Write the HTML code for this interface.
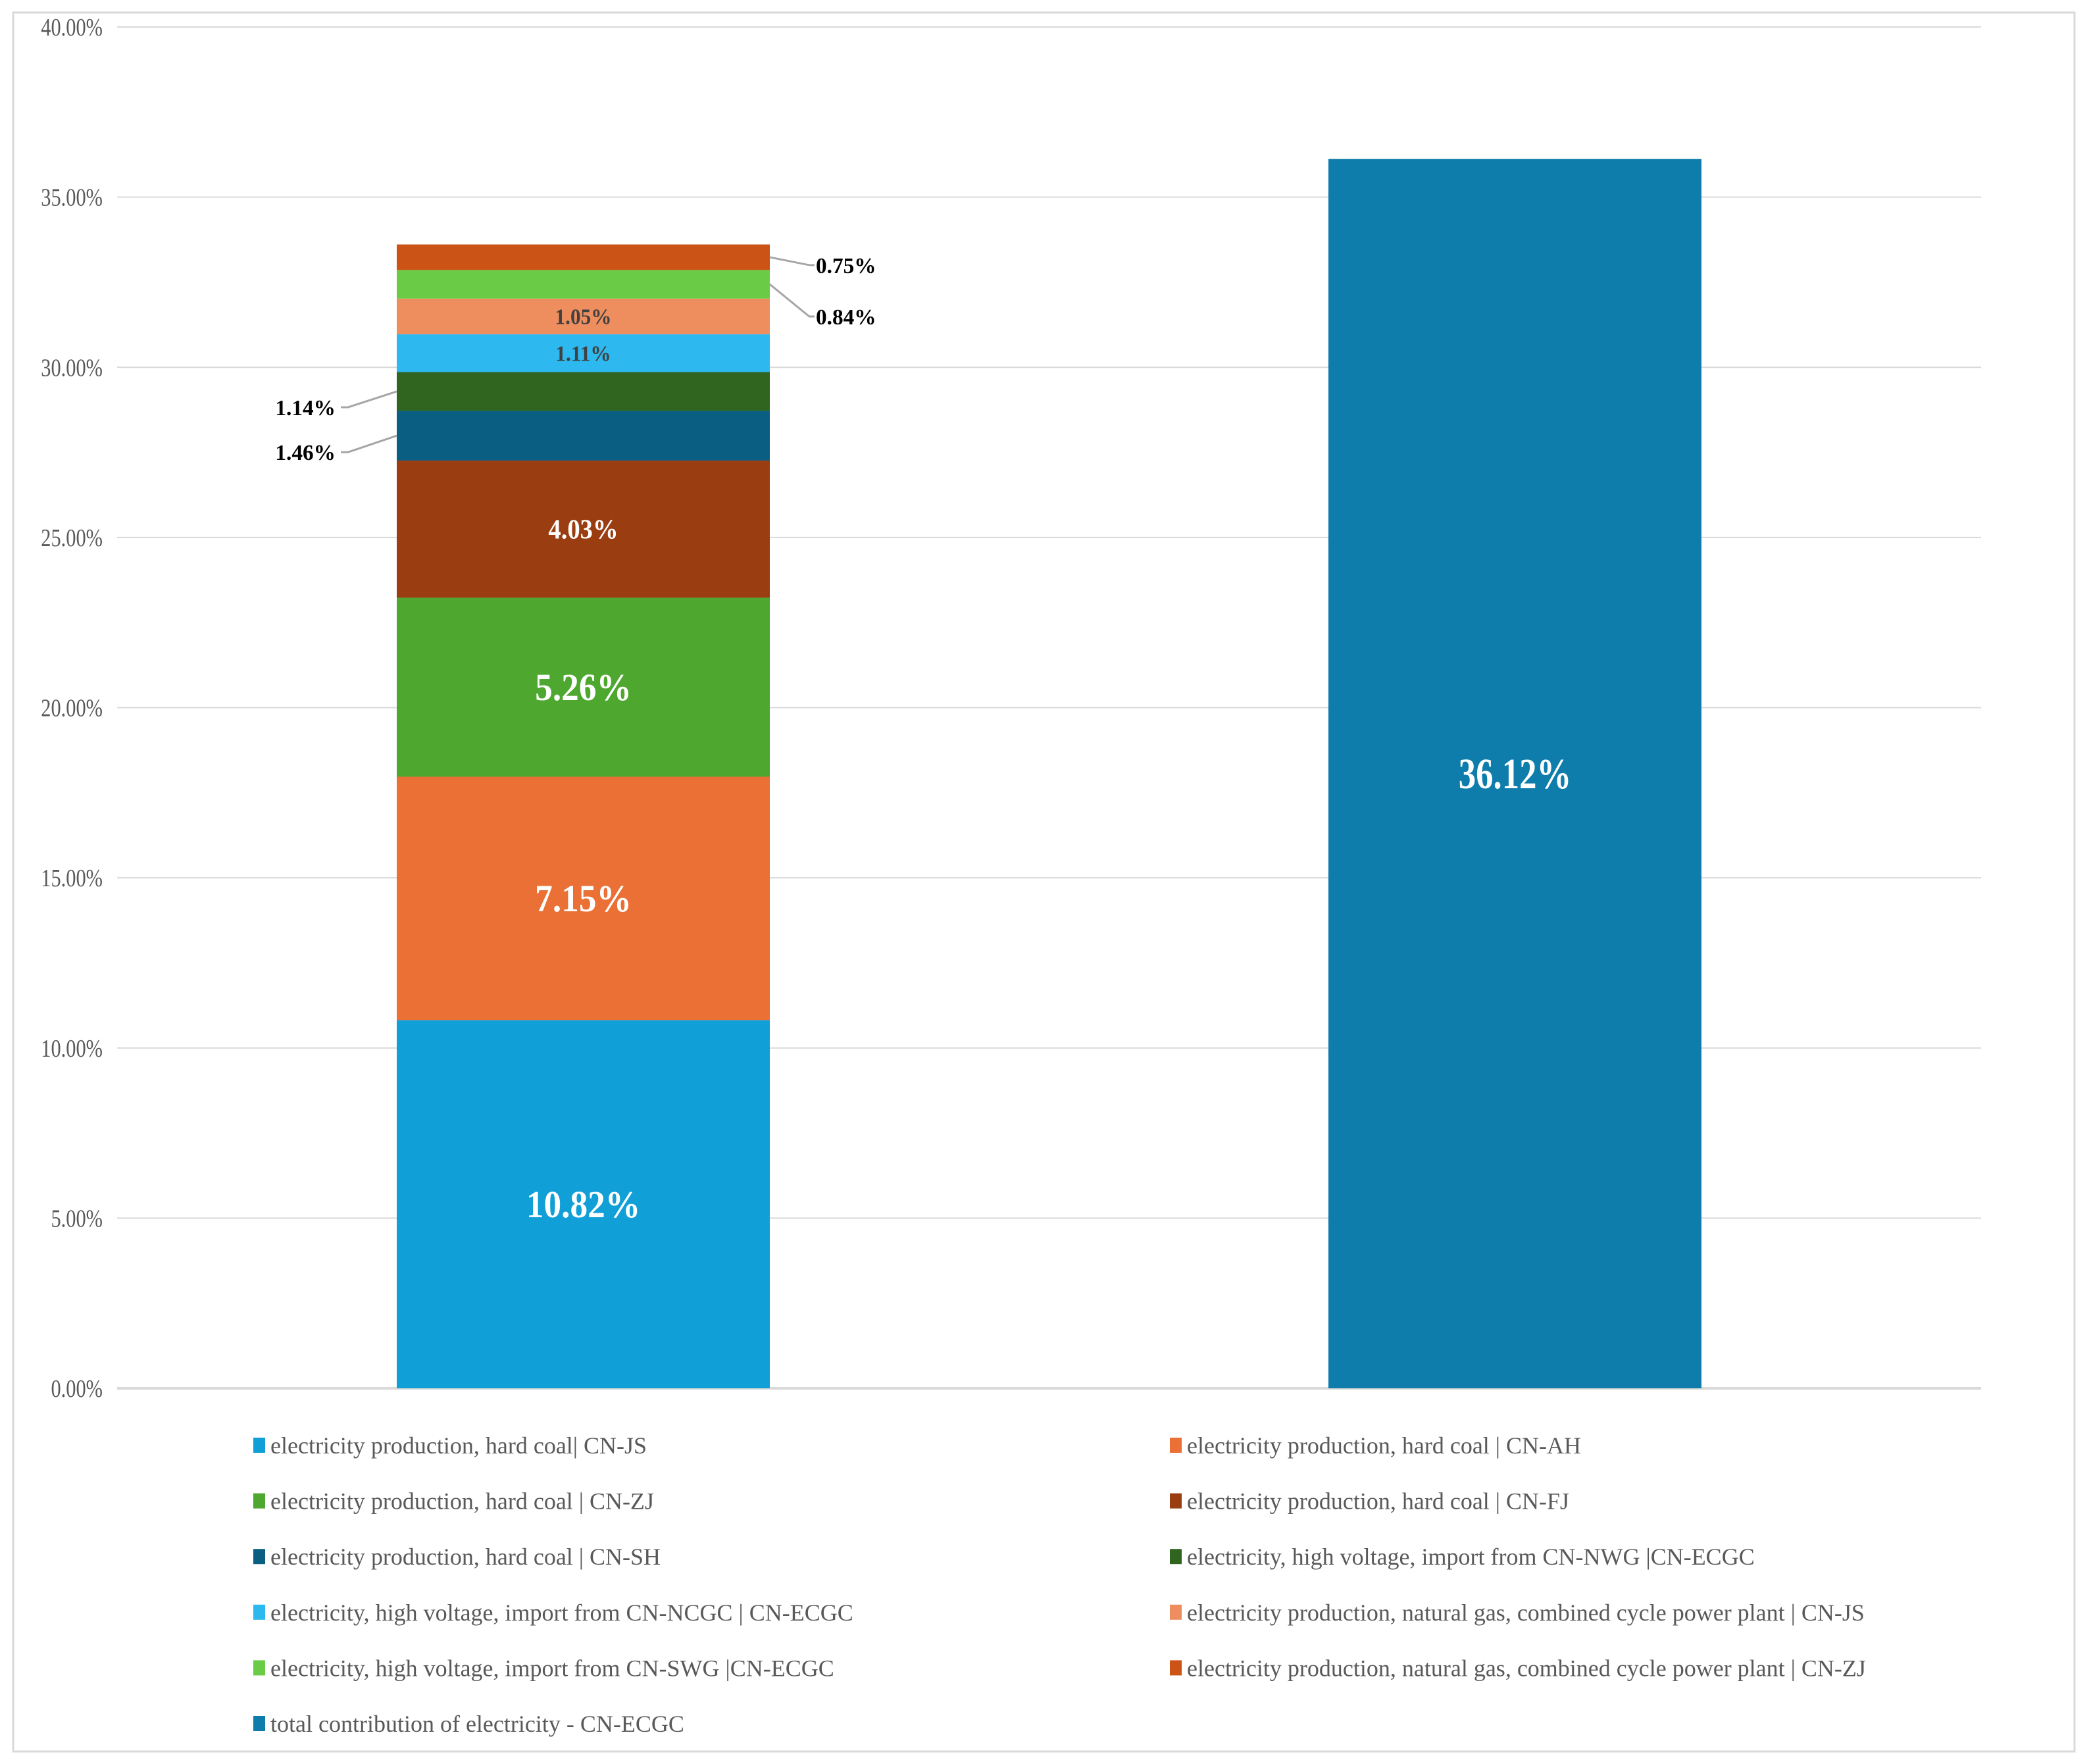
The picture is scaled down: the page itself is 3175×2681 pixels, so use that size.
<!DOCTYPE html>
<html><head><meta charset="utf-8"><style>
html,body{margin:0;padding:0;background:#fff}
svg{display:block}
text{font-family:"Liberation Serif",serif}
</style></head><body>
<svg id="chart" width="3175" height="2681" viewBox="0 0 3175 2681" xmlns="http://www.w3.org/2000/svg">
<rect x="20" y="19" width="3133" height="2643" fill="#fff" stroke="#d9d9d9" stroke-width="3"/>
<g id="grid"></g><g id="bars"></g><g id="labels"></g><g id="legend"></g>
</svg>
<script>
const categories = ["stacked", "total"];
const seriesNames = ["electricity production, hard coal| CN-JS","electricity production, hard coal | CN-AH","electricity production, hard coal | CN-ZJ","electricity production, hard coal | CN-FJ","electricity production, hard coal | CN-SH","electricity, high voltage, import from CN-NWG |CN-ECGC","electricity, high voltage, import from CN-NCGC | CN-ECGC","electricity production, natural gas, combined cycle power plant | CN-JS","electricity, high voltage, import from CN-SWG |CN-ECGC","electricity production, natural gas, combined cycle power plant | CN-ZJ","total contribution of electricity - CN-ECGC"];
const stackValues = [10.82, 7.15, 5.26, 4.03, 1.46, 1.14, 1.11, 1.05, 0.84, 0.75];
const totalValue = [36.12];
const tickValues = [0,5,10,15,20,25,30,35,40];
const colors = ["#109FD6","#EA7035","#4EA72E","#9A3D11","#0A5E82","#2F651F","#2DB8EF","#EE8E5E","#6ACC46","#CC5316","#0E7DAB"];

const NS="http://www.w3.org/2000/svg";
const y0=2110, yTop=41, vMax=40, xL=178, xR=3011;
const y=v=>y0-(v/vMax)*(y0-yTop);
const barX=[603,2019], barW=567;
function mk(tag,attrs,parent){const e=document.createElementNS(NS,tag);for(const k in attrs)e.setAttribute(k,attrs[k]);parent.appendChild(e);return e;}
function txt(parent,x,yy,s,size,fill,weight,anchor,sx){
  const g=mk('g',{transform:`translate(${x},${yy}) scale(${sx||0.8},1)`},parent);
  const t=mk('text',{x:0,y:0,'font-size':size,fill:fill,'font-weight':weight,'text-anchor':anchor},g);
  t.textContent=s;return t;}
const grid=document.getElementById('grid'),bars=document.getElementById('bars'),labels=document.getElementById('labels'),legend=document.getElementById('legend');
tickValues.forEach(v=>{
  const l=mk('line',{x1:xL,x2:xR,y1:y(v),y2:y(v),stroke:'#d9d9d9','stroke-width':v===0?4:2},grid);
  
  
  const t=txt(grid,156,y(v)+13,v.toFixed(2)+'%',38,'#595959','normal','end');
  
  
});
let cum=0;
const inside=[ [58,'#fff'],[58,'#fff'],[58,'#fff'],[42,'#fff'],null,null,[34,'#404040'],[34,'#404040'],null,null ];
stackValues.forEach((v,i)=>{
  const r=mk('rect',{x:barX[0],y:y(cum+v),width:barW,height:y(cum)-y(cum+v),fill:colors[i]},bars);
  
  
  const mid=(y(cum)+y(cum+v))/2;
  if(inside[i]){
    const t=txt(labels,barX[0]+barW/2,mid+inside[i][0]*0.34,v.toFixed(2)+'%',inside[i][0],inside[i][1],'bold','middle',0.92);
    
    
  } else {
    const right=(i>=8);
    let lx, ly, pts;
    const edge= right? barX[0]+barW : barX[0];
    if(right){ ly = i===9? mid+12 : mid+49; lx=1238;
      pts=`${edge},${mid} ${lx-8},${ly} ${lx},${ly}`; }
    else { ly = mid+(i===4?25:24); lx=514;
      pts=`${edge},${mid} ${lx+15},${ly} ${lx+4},${ly}`; }
    const pl=mk('polyline',{points:pts,fill:'none',stroke:'#a6a6a6','stroke-width':3},labels);
    
    
    const t=txt(labels,right?lx+2:lx-4,ly+12,v.toFixed(2)+'%',34,'#000','bold',right?'start':'end',0.98);
    
    
  }
  cum+=v;
});
const tb=mk('rect',{x:barX[1],y:y(totalValue[0]),width:barW,height:y0-y(totalValue[0]),fill:colors[10]},bars);


const tt=txt(labels,barX[1]+barW/2,(y0+y(totalValue[0]))/2+22,totalValue[0].toFixed(2)+'%',66,'#fff','bold','middle');


seriesNames.forEach((n,i)=>{
  const col=i%2, row=Math.floor(i/2);
  const mx=col?1778:385, cy=2197+row*84.6;
  const g=mk('g',{},legend);
  
  
  mk('rect',{x:mx,y:cy-12,width:18,height:23,fill:colors[i]},g);
  txt(g,mx+26,cy+12,n,36,'#595959','normal','start',1.0);
});
</script>
</body></html>
